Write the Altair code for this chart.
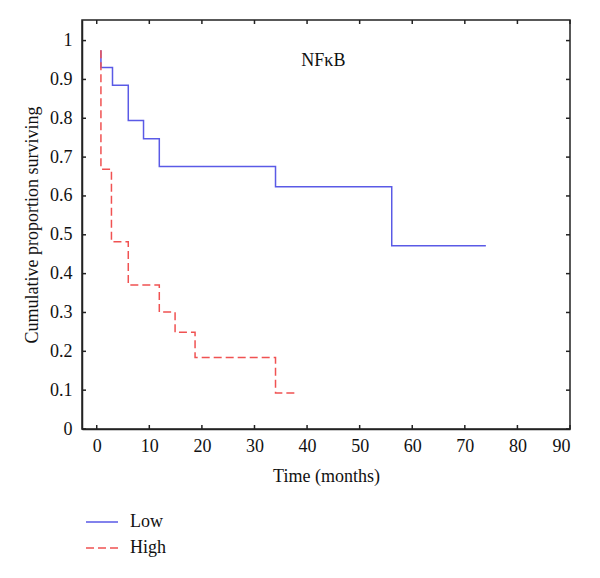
import altair as alt
import pandas as pd

# Kaplan-Meier step data
low_time = [0.8, 0.8, 3.0, 6.0, 8.9, 11.9, 34.0, 56.1, 74.0]
low_surv = [0.975, 0.931, 0.885, 0.794, 0.747, 0.676, 0.624, 0.472, 0.472]
high_time = [0.8, 0.8, 2.8, 6.0, 11.9, 14.9, 18.7, 34.0, 37.9]
high_surv = [0.975, 0.669, 0.482, 0.371, 0.301, 0.249, 0.184, 0.093, 0.093]

groups = ["Low", "High"]
colors = ["#5a5ae6", "#f05252"]
x_ticks = [0, 10, 20, 30, 40, 50, 60, 70, 80, 90]
y_ticks = [0, 0.1, 0.2, 0.3, 0.4, 0.5, 0.6, 0.7, 0.8, 0.9, 1]

rows = []
for i, (t, s) in enumerate(zip(low_time, low_surv)):
    rows.append({"time": t, "surv": s, "group": "Low", "i": i})
for i, (t, s) in enumerate(zip(high_time, high_surv)):
    rows.append({"time": t, "surv": s, "group": "High", "i": i})
df = pd.DataFrame(rows)

FONT = "Liberation Serif"
W, H = 488, 409
xscale = alt.Scale(domain=[-2.8, 90], nice=False, zero=False)
yscale = alt.Scale(domain=[0, 1.053], nice=False, zero=False)

x_axis = alt.Axis(title="Time (months)", values=x_ticks, ticks=False,
                  grid=False, labelPadding=8, titlePadding=12, format="d")
y_axis = alt.Axis(title="Cumulative proportion surviving", values=y_ticks,
                  ticks=False, grid=False, labelPadding=10,
                  titlePadding=8, format="~g")

lines = alt.Chart(df).mark_line(interpolate="step-after", strokeWidth=1.5).encode(
    x=alt.X("time:Q", scale=xscale, axis=x_axis),
    y=alt.Y("surv:Q", scale=yscale, axis=y_axis),
    color=alt.Color("group:N", scale=alt.Scale(domain=groups, range=colors),
                    legend=alt.Legend(title=None)),
    strokeDash=alt.StrokeDash("group:N",
                              scale=alt.Scale(domain=groups, range=[[1, 0], [8, 4]]),
                              legend=alt.Legend(title=None)),
    order="i:Q",
)

xt = pd.DataFrame({"time": x_ticks})
yt = pd.DataFrame({"surv": y_ticks})
tick_color = "#222222"

bottom_ticks = alt.Chart(xt).mark_rule(color=tick_color, strokeWidth=1.5).encode(
    x=alt.X("time:Q", scale=xscale, axis=x_axis), y=alt.value(H), y2=alt.value(H - 4))
top_ticks = alt.Chart(xt).mark_rule(color=tick_color, strokeWidth=1.5).encode(
    x=alt.X("time:Q", scale=xscale, axis=x_axis), y=alt.value(0), y2=alt.value(4))
left_ticks = alt.Chart(yt).mark_rule(color=tick_color, strokeWidth=1.5).encode(
    y=alt.Y("surv:Q", scale=yscale, axis=y_axis), x=alt.value(0), x2=alt.value(4))
right_ticks = alt.Chart(yt).mark_rule(color=tick_color, strokeWidth=1.5).encode(
    y=alt.Y("surv:Q", scale=yscale, axis=y_axis), x=alt.value(W), x2=alt.value(W - 4))

label_df = pd.DataFrame({"time": [43.1], "surv": [0.948], "label": ["NFκB"]})
label = alt.Chart(label_df).mark_text(font=FONT, fontSize=18, color="#111111").encode(
    x=alt.X("time:Q", scale=xscale, axis=x_axis),
    y=alt.Y("surv:Q", scale=yscale, axis=y_axis),
    text="label:N",
)

chart = alt.layer(lines, bottom_ticks, top_ticks, left_ticks, right_ticks, label).properties(
    width=W, height=H,
    autosize=alt.AutoSizeParams(type="none"),
    padding={"left": 74, "top": 12, "right": 22, "bottom": 141},
).configure_view(
    stroke="#222222", strokeWidth=1.5
).configure_axis(
    domainColor="#222222", domainWidth=1.5,
    labelFont=FONT, labelFontSize=18, labelColor="#111111",
    titleFont=FONT, titleFontSize=18, titleFontWeight="normal", titleColor="#111111",
).configure_legend(
    orient="none", legendX=3, legendY=485, padding=0,
    symbolType="stroke", symbolSize=1024, symbolStrokeWidth=1.5,
    labelFont=FONT, labelFontSize=18, labelColor="#111111",
    labelOffset=11, rowPadding=-5.5,
)

chart.save("out.html", embed_options={"renderer": "svg", "actions": False})
